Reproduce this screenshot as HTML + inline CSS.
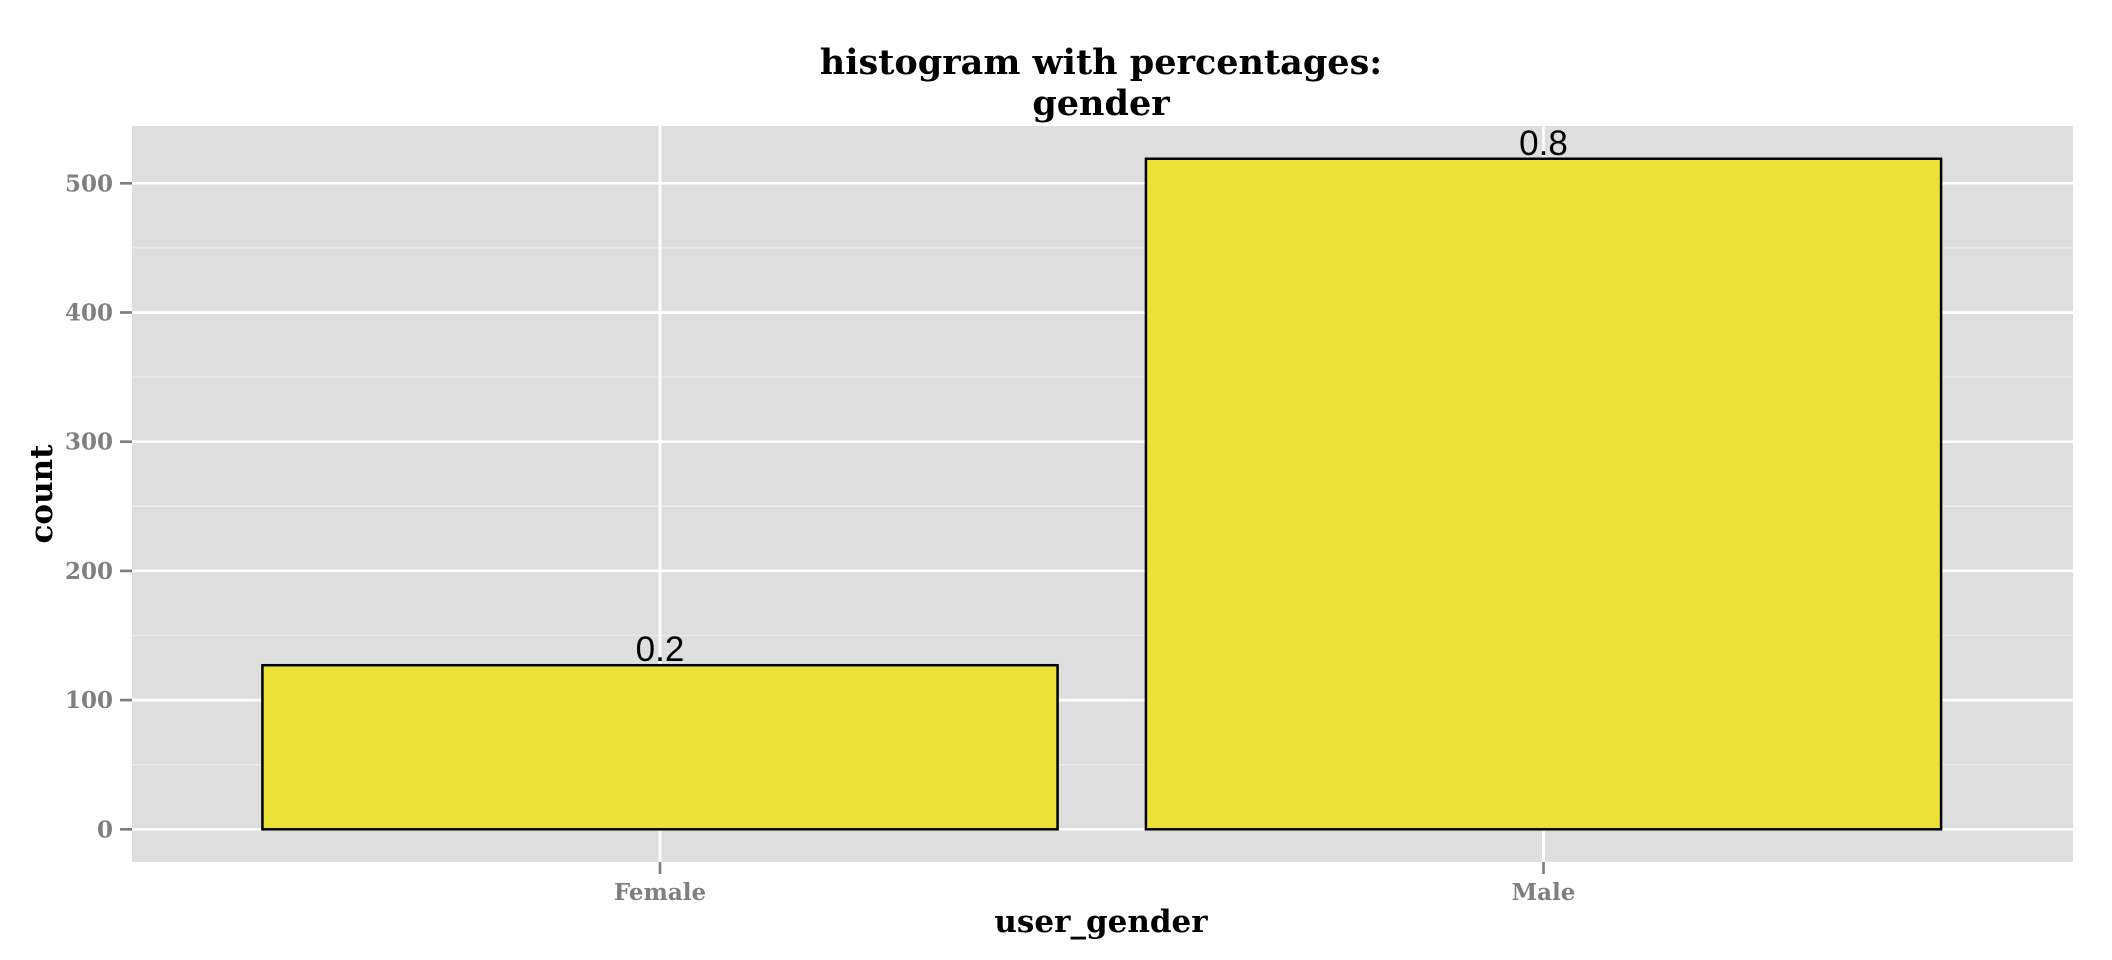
<!DOCTYPE html>
<html><head><meta charset="utf-8"><style>
html,body{margin:0;padding:0;background:#fff;}
svg{display:block;font-family:"DejaVu Serif",serif;}
</style></head><body>
<svg width="2112" height="960">
<g id="g"></g>
</svg>
<script>
const categories = ["Female", "Male"];
const counts = [127, 519];
const labels = ["0.2", "0.8"];
const yTicks = [0, 100, 200, 300, 400, 500];

const NS = "http://www.w3.org/2000/svg";
const P = {x0: 132, x1: 2073, y0: 126, y1: 862};
const yZero = 829.3, pxPer = 1.292;
function yScale(v) { return yZero - v * pxPer; }
const step = 883.5;
function xScale(i) { return 660 + i * step; }
const g = document.getElementById('g');
function el(tag, attrs, text) {
  const e = document.createElementNS(NS, tag);
  for (const k in attrs) e.setAttribute(k, attrs[k]);
  if (text !== undefined) e.textContent = text;
  g.appendChild(e);
  return e;
}
let e;
e = el('rect', {x: P.x0, y: P.y0, width: P.x1 - P.x0, height: P.y1 - P.y0, fill: '#dedede'});


for (let i = 0; i < yTicks.length - 1; i++) {
  const v = (yTicks[i] + yTicks[i + 1]) / 2;
  e = el('line', {x1: P.x0, x2: P.x1, y1: yScale(v), y2: yScale(v), stroke: '#ececec', 'stroke-width': 1.3});
  
  
}
yTicks.forEach(v => {
  const y = yScale(v);
  e = el('line', {x1: P.x0, x2: P.x1, y1: y, y2: y, stroke: '#fff', 'stroke-width': 2.7});
  
  
  e = el('line', {x1: 120, x2: 132, y1: y, y2: y, stroke: '#7f7f7f', 'stroke-width': 2.7});
  
  
  e = el('text', {x: 113, y: y + 8, 'text-anchor': 'end', 'font-size': 23, 'font-weight': 'bold', fill: '#7f7f7f'}, String(v));
  
  
});
categories.forEach((c, i) => {
  const x = xScale(i);
  e = el('line', {x1: x, x2: x, y1: P.y0, y2: P.y1, stroke: '#fff', 'stroke-width': 2.7});
  
  
  e = el('line', {x1: x, x2: x, y1: P.y1, y2: P.y1 + 12, stroke: '#7f7f7f', 'stroke-width': 2.7});
  
  
  e = el('text', {x: x, y: 900, 'text-anchor': 'middle', 'font-size': 23, 'font-weight': 'bold', fill: '#7f7f7f'}, c);
  
  
});
categories.forEach((c, i) => {
  const w = step * 0.9, x = xScale(i) - w / 2, y = yScale(counts[i]);
  e = el('rect', {x: x, y: y, width: w, height: yZero - y, fill: '#ece236', stroke: '#000', 'stroke-width': 2.5});
  
  
  e = el('text', {x: xScale(i), y: y - 4, 'text-anchor': 'middle', 'font-size': 35, 'font-family': 'Liberation Sans, sans-serif'}, labels[i]);
  
  
});
e = el('text', {x: 1101, y: 74, 'text-anchor': 'middle', 'font-size': 35, 'font-weight': 'bold'}, 'histogram with percentages:');


e = el('text', {x: 1101, y: 115, 'text-anchor': 'middle', 'font-size': 35, 'font-weight': 'bold'}, 'gender');


e = el('text', {x: 1101, y: 932, 'text-anchor': 'middle', 'font-size': 31, 'font-weight': 'bold'}, 'user_gender');


e = el('text', {x: 0, y: 0, 'text-anchor': 'middle', 'font-size': 31, 'font-weight': 'bold', transform: 'translate(52,494) rotate(-90)'}, 'count');


</script>
</body></html>
